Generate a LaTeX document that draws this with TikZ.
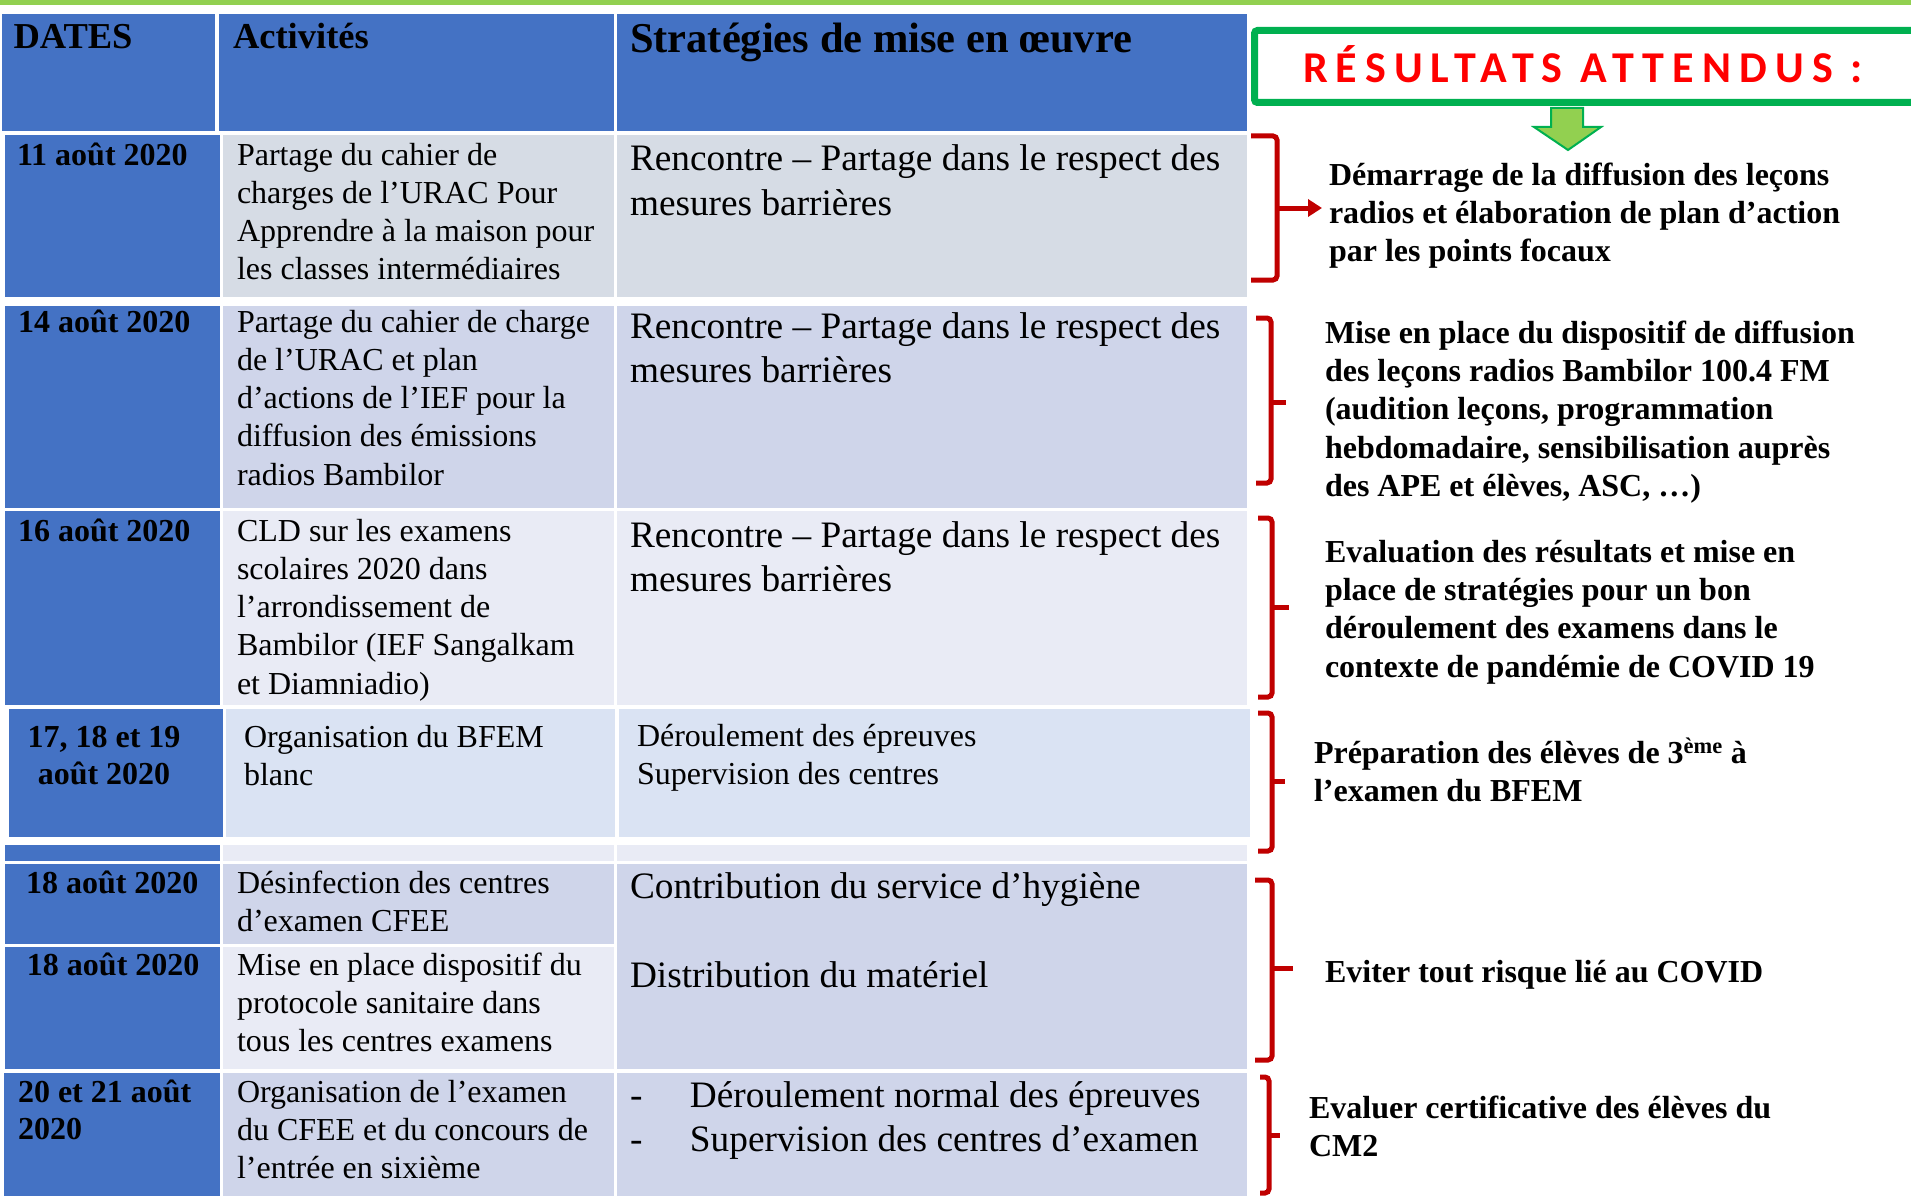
\documentclass[tikz,border=0pt]{standalone}
\usepackage{fontspec}
\setmainfont{Liberation Serif}
\newfontfamily\titlefont[LetterSpace=18.5]{Carlito}
\usetikzlibrary{arrows.meta}
\definecolor{hdrblue}{HTML}{4472C4}
\definecolor{rowgray}{HTML}{D6DCE5}
\definecolor{rowlav}{HTML}{CFD5EA}
\definecolor{rowlight}{HTML}{E9EBF5}
\definecolor{rowblue}{HTML}{DAE3F3}
\definecolor{bracered}{HTML}{C00000}
\definecolor{boxgreen}{HTML}{00B050}
\definecolor{lightgreen}{HTML}{92D050}
\newcommand{\cellt}[1]{\begin{tabular}[t]{@{}l@{}}#1\end{tabular}}
\newcommand{\cellc}[1]{\begin{tabular}[t]{@{}c@{}}#1\end{tabular}}
\tikzset{
  txt/.style={anchor=base west, inner sep=0pt, outer sep=0pt, text=black},
  hdr/.style={txt, font=\fontsize{36.5}{44}\selectfont\bfseries},
  hdrbig/.style={txt, font=\fontsize{42.5}{50}\selectfont\bfseries},
  dat/.style={txt, font=\fontsize{32}{38}\selectfont\bfseries},
  datbig/.style={txt, font=\fontsize{32}{37}\selectfont\bfseries},
  act/.style={txt, font=\fontsize{32}{38.3}\selectfont},
  strat/.style={txt, font=\fontsize{37.3}{44}\selectfont},
  stratsmall/.style={txt, font=\fontsize{32}{38}\selectfont},
  res/.style={txt, font=\fontsize{32}{38.4}\selectfont\bfseries},
  brace/.style={draw=bracered, line width=5pt, rounded corners=4pt},
}
\begin{document}
\begin{tikzpicture}[x=1pt,y=-1pt]
\useasboundingbox (0,0) rectangle (1911,1196);
\fill[white] (0,0) rectangle (1911,1196);
% top green rule
\fill[lightgreen] (0,0) rectangle (1911,5.5);

% header row
\fill[hdrblue] (2,14) rectangle (215,131);
\fill[hdrblue] (219,14) rectangle (614,131);
\fill[hdrblue] (617,14) rectangle (1247,131);
% row 1
\fill[hdrblue] (5,135) rectangle (220,297);
\fill[rowgray] (223,135) rectangle (614,297);
\fill[rowgray] (617,135) rectangle (1247,297);
% row 2
\fill[hdrblue] (5,306) rectangle (220,508);
\fill[rowlav] (223,306) rectangle (614,508);
\fill[rowlav] (617,306) rectangle (1247,508);
% row 3
\fill[hdrblue] (5,511) rectangle (220,705);
\fill[rowlight] (223,511) rectangle (614,705);
\fill[rowlight] (617,511) rectangle (1247,705);
% row 4
\fill[hdrblue] (9,709) rectangle (223,837);
\fill[rowblue] (226,709) rectangle (615,837);
\fill[rowblue] (619,709) rectangle (1250,837);
% strip
\fill[hdrblue] (5,845) rectangle (220,861);
\fill[rowlight] (223,845) rectangle (614,861);
\fill[rowlight] (617,845) rectangle (1247,861);
% rows 5 and 6
\fill[hdrblue] (5,864) rectangle (220,944);
\fill[rowlav] (223,864) rectangle (614,944);
\fill[hdrblue] (5,947) rectangle (220,1069);
\fill[rowlight] (223,947) rectangle (614,1069);
\fill[rowlav] (617,864) rectangle (1247,1069);
% row 7
\fill[hdrblue] (4,1073) rectangle (220,1196);
\fill[rowlav] (223,1073) rectangle (614,1196);
\fill[rowlav] (617,1073) rectangle (1247,1196);

% header texts
\node[hdr] (h1) at (13.5,49) {DATES};
\node[hdr] (h2) at (233,49) {Activités};
\node[hdrbig] (h3) at (630,53) {Stratégies de mise en œuvre};

% dates
\node[dat] (d1) at (17,165) {11 août 2020};
\node[dat] (d2) at (18,332) {14 août 2020};
\node[dat] (d3) at (18,541) {16 août 2020};
\node[datbig, anchor=base] (d4) at (104,747) {\cellc{17, 18 et 19\\août 2020}};
\node[dat] (d5) at (26,893) {18 août 2020};
\node[dat] (d6) at (27,975) {18 août 2020};
\node[datbig] (d7) at (18,1102) {\cellt{20 et 21 août\\2020}};

% activities
\node[act] (a1) at (237,165) {\cellt{Partage du cahier de\\charges de l’URAC Pour\\Apprendre à la maison pour\\les classes intermédiaires}};
\node[act] (a2) at (237,332) {\cellt{Partage du cahier de charge\\de l’URAC et plan\\d’actions de l’IEF pour la\\diffusion des émissions\\radios Bambilor}};
\node[act] (a3) at (237,541) {\cellt{CLD sur les examens\\scolaires 2020 dans\\l’arrondissement de\\Bambilor (IEF Sangalkam\\et Diamniadio)}};
\node[act] (a4) at (244,747) {\cellt{Organisation du BFEM\\blanc}};
\node[act] (a5) at (237,893) {\cellt{Désinfection des centres\\d’examen CFEE}};
\node[act] (a6) at (237,975) {\cellt{Mise en place dispositif du\\protocole sanitaire dans\\tous les centres examens}};
\node[act] (a7) at (237,1102) {\cellt{Organisation de l’examen\\du CFEE et du concours de\\l’entrée en sixième}};

% strategies
\node[strat] (s1) at (630,171) {\cellt{Rencontre – Partage dans le respect des\\mesures barrières}};
\node[strat] (s2) at (630,338) {\cellt{Rencontre – Partage dans le respect des\\mesures barrières}};
\node[strat] (s3) at (630,547) {\cellt{Rencontre – Partage dans le respect des\\mesures barrières}};
\node[stratsmall] (s4) at (637,746) {\cellt{Déroulement des épreuves\\Supervision des centres}};
\node[strat] (s5) at (630,898) {Contribution du service d’hygiène};
\node[strat] (s6) at (630,987) {Distribution du matériel};
\node[strat] (s7) at (630,1107) {\cellt{\makebox[60pt][l]{-}Déroulement normal des épreuves\\\makebox[60pt][l]{-}Supervision des centres d’examen}};

% results title box
\begin{scope}
\clip (0,0) rectangle (1911,1196);
\draw[boxgreen, line width=7pt, rounded corners=3pt] (1930,102.5) -- (1254.5,102.5) -- (1254.5,30.5) -- (1930,30.5);
\end{scope}
\node[txt, text=red, font=\titlefont\fontsize{44}{50}\selectfont\bfseries] (title) at (1303,83) {RÉSULTATS ATTENDUS :};
% green down arrow
\filldraw[fill=lightgreen, draw=boxgreen, line width=2pt, line join=miter]
  (1551,108) -- (1583,108) -- (1583,127) -- (1601,127) -- (1568,150) -- (1534,127) -- (1551,127) -- cycle;

% results
\node[res] (r1) at (1329,185) {\cellt{Démarrage de la diffusion des leçons\\radios et élaboration de plan d’action\\par les points focaux}};
\node[res] (r2) at (1325,343) {\cellt{Mise en place du dispositif de diffusion\\des leçons radios Bambilor 100.4 FM\\(audition leçons, programmation\\hebdomadaire, sensibilisation auprès\\des APE et élèves, ASC, …)}};
\node[res] (r3) at (1325,562) {\cellt{Evaluation des résultats et mise en\\place de stratégies pour un bon\\déroulement des examens dans le\\contexte de pandémie de COVID 19}};
\node[res] (r4) at (1314,763) {\cellt{Préparation des élèves de 3\textsuperscript{ème} à\\l’examen du BFEM}};
\node[res] (r5) at (1325,982) {Eviter tout risque lié au COVID};
\node[res] (r6) at (1309,1118) {\cellt{Evaluer certificative des élèves du\\CM2}};

% braces
\coordinate (b1t) at (1322,208);
\draw[brace] (1251,136) -- (1277,136) -- (1277,280) -- (1251,280);
\draw[bracered, line width=5pt, -{Triangle[length=14pt,width=17pt]}] (1277,208) -- (b1t);
\draw[brace] (1256,318) -- (1271,318) -- (1271,483) -- (1256,483);
\draw[bracered, line width=5pt] (1271,402) -- (1286,402);
\draw[brace] (1258,518) -- (1272,518) -- (1272,697) -- (1258,697);
\draw[bracered, line width=5pt] (1272,607) -- (1289,607);
\draw[brace] (1258,713) -- (1272,713) -- (1272,851) -- (1258,851);
\draw[bracered, line width=5pt] (1272,781) -- (1285,781);
\draw[brace] (1255,880) -- (1272,880) -- (1272,1060) -- (1255,1060);
\draw[bracered, line width=5pt] (1272,968) -- (1293,968);
\draw[brace] (1260,1077) -- (1269,1077) -- (1269,1193) -- (1260,1193);
\draw[bracered, line width=5pt] (1269,1135) -- (1280,1135);
\end{tikzpicture}
\end{document}
